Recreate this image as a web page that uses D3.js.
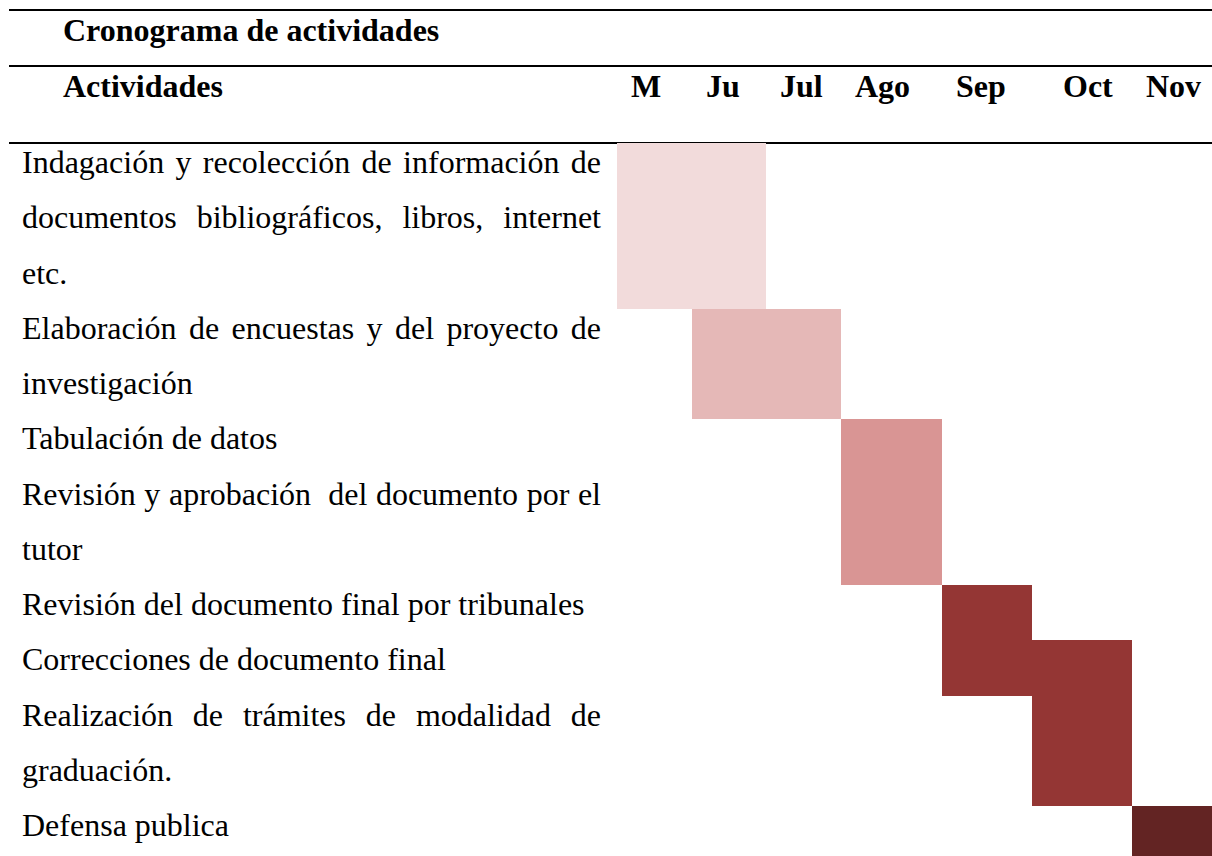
<!DOCTYPE html>
<html><head><meta charset="utf-8">
<script src="https://cdn.jsdelivr.net/npm/d3@7"></script>
<style>html,body{margin:0;padding:0;background:#fff;overflow:hidden}
svg text{font-family:"Liberation Serif","Times New Roman",Times,"DejaVu Serif",serif;}</style>
</head><body><svg id="c" width="1212" height="856"></svg>
<script>
// ---- data ----
const title = "Cronograma de actividades";
const columnHeader = "Actividades";
const months = ["M","Ju","Jul","Ago","Sep","Oct","Nov"];
const activityLines = [
  ["Indagación y recolección de información de","documentos bibliográficos, libros, internet","etc."],
  ["Elaboración de encuestas y del proyecto de","investigación"],
  ["Tabulación de datos"],
  ["Revisión y aprobación  del documento por el","tutor"],
  ["Revisión del documento final por tribunales"],
  ["Correcciones de documento final"],
  ["Realización de trámites de modalidad de","graduación."],
  ["Defensa publica"]
];
const activityMonths = [["M","Ju"],["Ju","Jul"],["Ago"],["Ago"],["Sep"],["Sep","Oct"],["Oct"],["Nov"]];

// ---- styles ----
const shades = ["#F2DBDB","#E5B8B7","#D99594","#D99594","#943634","#943634","#943634","#632423"];
const FS = 32;

// ---- layout ----
const svg = d3.select("#c");
const nLines = d3.sum(activityLines, d => d.length);
const lineStart = [0, ...d3.cumsum(activityLines, d => d.length)];
const monthIndex = d3.scaleOrdinal(months, d3.range(months.length));
const x = d3.scaleLinear().domain(d3.range(8)).range([617,692,766,841,942,1032,1132,1212]);
const headerX = d3.scaleLinear().domain(d3.range(8)).range([617,692,766,841,942,1049,1132,1212]);
const y = d3.scaleLinear().domain([0, nLines]).range([143, 143 + nLines * 55.25]);
const textLeft = 22, textRight = 601;

// rules
svg.selectAll("line.rule").data([10, 66, y(0)]).join("line")
  .attr("class","rule").attr("x1",9).attr("x2",1212)
  .attr("y1",d=>d).attr("y2",d=>d).attr("stroke","#000").attr("stroke-width",2);

// header text
svg.append("text").attr("x",63).attr("y",41).attr("font-size",FS)
  .attr("font-weight","bold").text(title);
svg.append("text").attr("x",63).attr("y",97).attr("font-size",FS)
  .attr("font-weight","bold").text(columnHeader);
svg.selectAll("text.month").data(months).join("text").attr("class","month")
  .attr("x",(d,i)=>headerX(i)+14).attr("y",97).attr("font-size",FS)
  .attr("font-weight","bold").text(d=>d);

// bars (one cell per activity & month)
const cells = activityMonths.flatMap((ms, a) => ms.map(m => ({a, i: monthIndex(m)})));
svg.selectAll("rect.cell").data(cells).join("rect").attr("class","cell")
  .attr("x", d => x(d.i)).attr("width", d => x(d.i + 1) - x(d.i))
  .attr("y", d => y(lineStart[d.a])).attr("height", d => y(lineStart[d.a + 1]) - y(lineStart[d.a]))
  .attr("fill", d => shades[d.a]).attr("shape-rendering","crispEdges");

// activity text
const lines = activityLines.flatMap((ls, a) => ls.map((t, k) => ({t, row: lineStart[a] + k, justify: k < ls.length - 1})));
svg.selectAll("text.act").data(lines).join("text").attr("class","act")
  .attr("x", textLeft).attr("y", d => y(d.row) + 30)
  .attr("font-size",FS).attr("fill","#000")
  .style("white-space","pre")
  .text(d => d.t)
  .each(function(d){
    if (!d.justify) return;
    const nat = this.getComputedTextLength();
    const spaces = d.t.split(" ").length - 1;
    if (spaces > 0) d3.select(this).style("word-spacing", ((textRight - textLeft - nat) / spaces) + "px");
  });
</script></body></html>
